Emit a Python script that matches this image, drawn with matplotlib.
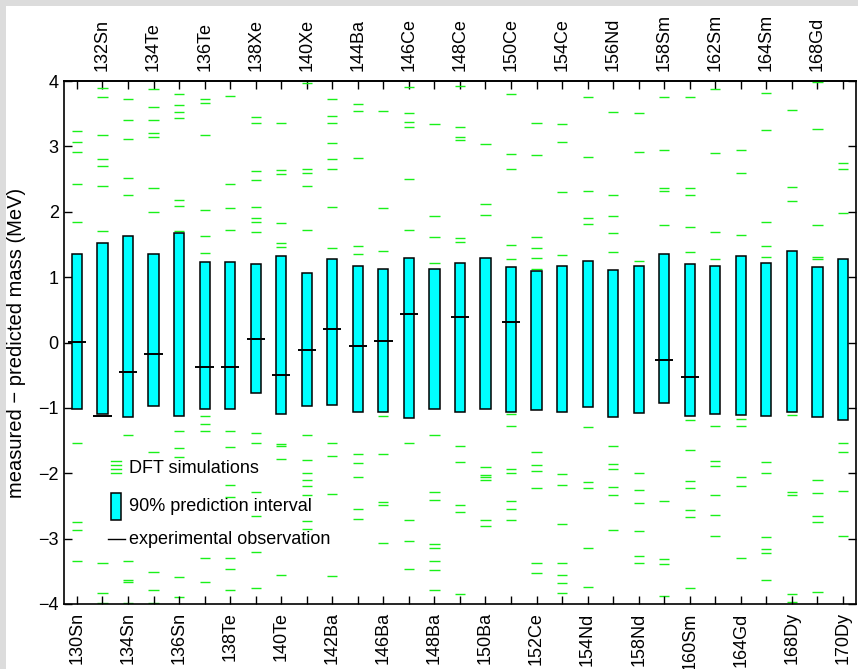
import numpy as np
import matplotlib.pyplot as plt
from matplotlib.patches import Rectangle
from matplotlib.lines import Line2D

plt.rcParams['font.family'] = ['Liberation Sans', 'DejaVu Sans']

# nuclei in order along the x axis (even -> bottom labels, odd -> top labels)
nuclei = ['130Sn', '132Sn', '134Sn', '134Te', '136Sn', '136Te', '138Te', '138Xe',
          '140Te', '140Xe', '142Ba', '144Ba', '146Ba', '146Ce', '148Ba', '148Ce',
          '150Ba', '150Ce', '152Ce', '154Ce', '154Nd', '156Nd', '158Nd', '158Sm',
          '160Sm', '162Sm', '164Gd', '164Sm', '168Dy', '168Gd', '170Dy']

# 90% prediction interval (MeV)
upper = [1.36, 1.52, 1.63, 1.35, 1.67, 1.23, 1.23, 1.20, 1.32, 1.06, 1.27, 1.17,
         1.12, 1.30, 1.12, 1.21, 1.29, 1.16, 1.09, 1.17, 1.24, 1.11, 1.17, 1.35,
         1.20, 1.17, 1.32, 1.21, 1.40, 1.16, 1.27]
lower = [-1.02, -1.09, -1.14, -0.97, -1.13, -1.02, -1.01, -0.78, -1.10, -0.97,
         -0.95, -1.06, -1.06, -1.15, -1.01, -1.07, -1.01, -1.07, -1.03, -1.06,
         -0.98, -1.14, -1.08, -0.92, -1.13, -1.09, -1.11, -1.12, -1.07, -1.14, -1.19]

# experimental observation (nan where no measurement)
nan = np.nan
observed = [0.01, -1.12, -0.45, -0.18, nan, -0.37, -0.37, 0.05, -0.50, -0.12,
            0.21, -0.05, 0.03, 0.44, nan, 0.385, nan, 0.31, nan, nan, nan, nan,
            nan, -0.27, -0.53, nan, nan, nan, nan, nan, nan]

# DFT simulation results for each nucleus
dft = [
    [3.24, 3.06, 2.91, 2.42, 1.84, -1.53, -2.75, -2.87, -3.34],
    [3.90, 3.76, 3.17, 2.81, 2.70, 2.40, 1.70, -3.38, -3.83, -3.98],
    [3.72, 3.41, 3.12, 2.51, 2.25, -1.42, -3.34, -3.64, -3.66, -3.98],
    [3.87, 3.60, 3.41, 3.20, 3.14, 2.37, 1.99, -1.68, -3.51, -3.78, -3.99],
    [3.80, 3.64, 3.52, 3.44, 2.18, 2.09, 1.71, -1.36, -1.62, -1.75, -3.58, -3.90],
    [3.72, 3.67, 3.18, 2.02, 1.63, 1.37, -1.12, -1.25, -1.36, -3.30, -3.67],
    [3.77, 2.42, 2.05, 1.72, -1.36, -1.60, -2.18, -2.36, -3.30, -3.47, -3.79],
    [3.45, 3.35, 2.63, 2.48, 2.08, 1.91, 1.85, 1.69, -1.38, -1.53, -2.28, -2.65, -3.20, -3.75],
    [3.35, 2.64, 2.57, 1.83, 1.52, 1.46, -1.55, -1.58, -1.78, -3.56],
    [3.97, 2.66, 2.59, 2.39, 1.72, -1.42, -1.80, -1.99, -2.10, -2.19, -2.34, -2.73, -2.85],
    [3.73, 3.47, 3.36, 3.05, 2.81, 2.66, 2.07, 1.45, -1.54, -1.74, -2.31, -3.57],
    [3.65, 3.54, 2.82, 1.47, 1.35, -1.71, -1.85, -2.06, -2.55, -2.70],
    [3.54, 2.05, 1.40, -1.12, -1.71, -2.44, -2.49, -3.07],
    [3.91, 3.51, 3.38, 3.30, 2.50, 1.72, -1.53, -2.72, -3.03, -3.47],
    [3.34, 1.94, 1.62, 1.21, -1.42, -2.29, -2.41, -3.08, -3.14, -3.34, -3.48, -3.79],
    [3.93, 3.30, 3.15, 3.10, 1.60, 1.54, -1.58, -1.83, -2.48, -2.59, -3.84],
    [3.03, 2.12, 1.95, -1.90, -2.02, -2.06, -2.10, -2.71, -2.81],
    [3.80, 2.88, 2.65, 1.49, 1.28, -1.10, -1.27, -1.94, -2.00, -2.43, -2.54, -2.71],
    [3.36, 2.87, 1.62, 1.44, 1.30, 1.12, -1.68, -1.87, -1.97, -2.23, -3.37, -3.52],
    [3.34, 3.07, 2.30, 1.34, -2.01, -2.18, -2.78, -3.38, -3.56, -3.68, -3.83],
    [3.76, 2.84, 2.32, 1.91, 1.81, -1.29, -2.14, -2.23, -3.15, -3.74],
    [3.52, 2.25, 1.94, 1.68, 1.39, -1.59, -1.86, -1.93, -2.21, -2.34, -2.87],
    [3.51, 2.91, 1.24, -1.99, -2.25, -2.46, -2.88, -3.26, -3.38],
    [3.76, 2.95, 2.36, 2.32, 1.80, -2.43, -3.31, -3.39, -3.87],
    [3.75, 2.36, 2.26, 1.76, 1.39, -1.19, -1.64, -2.12, -2.22, -2.56, -2.67, -3.75],
    [3.87, 2.90, 1.69, 1.27, -1.28, -1.82, -1.89, -2.33, -2.64, -2.96],
    [2.94, 2.60, 1.64, -1.17, -1.28, -2.06, -2.19, -3.30],
    [3.81, 3.25, 1.85, 1.47, 1.31, -1.83, -1.99, -2.97, -3.16, -3.22, -3.63],
    [3.55, 2.38, 2.16, -1.11, -2.28, -2.34, -3.84, -3.97],
    [3.99, 3.27, 1.79, 1.31, 1.28, -2.11, -2.30, -2.65, -2.74, -3.81],
    [2.74, 2.65, 1.98, -1.54, -1.67, -2.27, -2.96],
]

GREEN = '#19f019'
BAR_W = 0.4
FS = 13

x = np.arange(len(nuclei))
upper = np.array(upper)
lower = np.array(lower)
observed = np.array(observed)

fig = plt.figure(figsize=(8.58, 6.69), dpi=100)
fig.patch.set_facecolor('#dcdcdc')
fig.add_artist(Rectangle((6 / 858, 0), 1, 1 - 6 / 669, transform=fig.transFigure,
                         facecolor='white', edgecolor='none', zorder=-10))
ax = fig.add_axes([64.2 / 858, 65 / 669, 791.5 / 858, 523 / 669])

# DFT simulation dashes
for xi, vals in zip(x, dft):
    ax.hlines(vals, xi - BAR_W / 2, xi + BAR_W / 2, colors=GREEN, lw=1.0, zorder=1)

# prediction intervals
ax.bar(x, upper - lower, bottom=lower, width=BAR_W, color='cyan',
       edgecolor='black', linewidth=1.1, zorder=2)

# measured values
ax.hlines(observed, x - 0.36, x + 0.36, colors='black', lw=1.4, zorder=3)

ax.set_xlim(-0.5, len(nuclei) - 0.5)
ax.set_ylim(-4, 4)
ax.set_yticks(range(-4, 5))
ax.set_ylabel('measured \u2212 predicted mass (MeV)', fontsize=14.5, labelpad=9)

ax.set_xticks(x[::2])
ax.set_xticklabels(nuclei[::2], rotation=90, fontsize=FS)
ax.set_xticks(x[1::2], minor=True)
ax.tick_params(axis='both', which='both', direction='in', length=6, width=1.0)
ax.tick_params(axis='x', which='major', pad=6)
ax.tick_params(axis='y', labelsize=FS, right=True, pad=4)

top = ax.secondary_xaxis('top')
top.set_xticks(x[1::2])
top.set_xticklabels(nuclei[1::2], rotation=90, fontsize=FS)
top.set_xticks(x[::2], minor=True)
top.tick_params(axis='x', which='both', direction='in', length=6, width=1.0, pad=7)

for s in list(ax.spines.values()) + list(top.spines.values()):
    s.set_linewidth(1.2)

# legend drawn in axes coordinates
tr = ax.transAxes
for yy in [0.2734, 0.2658, 0.2581, 0.2505]:
    ax.add_line(Line2D([0.0595, 0.0721], [yy, yy], transform=tr, color=GREEN, lw=1.0))
ax.text(0.0815, 0.2595, 'DFT simulations', transform=tr, fontsize=FS, va='center')
ax.add_patch(Rectangle((0.0587, 0.1606), 0.0134, 0.0511, transform=tr,
                       facecolor='cyan', edgecolor='black', lw=1.1, zorder=4))
ax.text(0.0815, 0.1855, '90% prediction interval', transform=tr, fontsize=FS, va='center')
ax.add_line(Line2D([0.055, 0.0772], [0.1237, 0.1237], transform=tr, color='black', lw=1.0))
ax.text(0.0815, 0.1237, 'experimental observation', transform=tr, fontsize=FS, va='center')

fig.savefig('out.png', dpi=100)
